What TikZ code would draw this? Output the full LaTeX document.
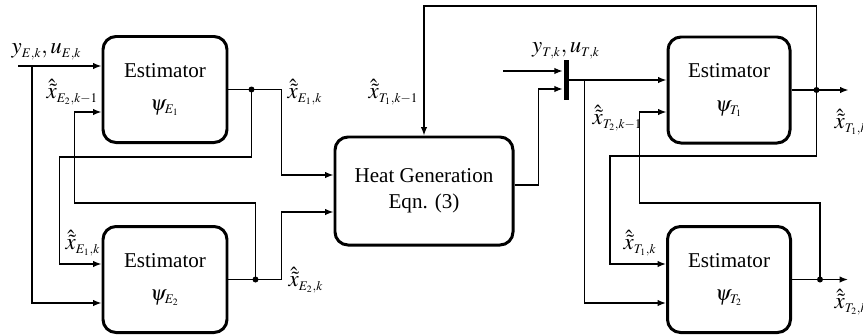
\documentclass[tikz,border=0pt]{standalone}
\usepackage{mathptmx}
\usepackage{fontspec}
\setmainfont{Liberation Serif}
\usetikzlibrary{arrows.meta,calc}
\DeclareMathSizes{13}{13}{7.5}{5.5}
\DeclareMathSizes{12}{12}{7.5}{5.5}

\newcommand{\xht}{\hat{\tilde{x}}}

\begin{document}
\begin{tikzpicture}[x=0.2mm,y=-0.2mm,line width=0.8pt,>={Latex[length=1.7mm,width=1.3mm]},
  bloque/.style={draw,line width=1.7pt,rounded corners=2.6mm,align=center,font=\fontsize{12}{14}\selectfont},
  etiq/.style={font=\fontsize{13}{15}\selectfont,inner sep=0pt}]
  \useasboundingbox (0,0) rectangle (863,335);
  % bloques
  \node[bloque,minimum width=24.8mm,minimum height=21.2mm] (e1) at (165,89.5) {Estimator\\[5pt]$\psi_{E_1}$};
  \node[bloque,minimum width=24.8mm,minimum height=21.2mm] (e2) at (165,279.5) {Estimator\\[5pt]$\psi_{E_2}$};
  \node[bloque,minimum width=35.6mm,minimum height=21.6mm] (heat) at (424,191) {Heat Generation\\[1pt]Eqn. (3)};
  \node[bloque,minimum width=24.4mm,minimum height=21.2mm] (t1) at (729,90) {Estimator\\[5pt]$\psi_{T_1}$};
  \node[bloque,minimum width=24.6mm,minimum height=21.2mm] (t2) at (729,279.5) {Estimator\\[5pt]$\psi_{T_2}$};
  \node[fill,minimum width=1mm,minimum height=8mm,inner sep=0pt] (bar) at (566,80) {};
  % puntos de union
  \coordinate (inE) at (18,66);
  \coordinate (inT) at (503,71);
  \coordinate (jE1) at ($(e1.east)+(23,0)$);
  \coordinate (jE2) at ($(e2.east)+(27,0)$);
  \coordinate (jT1) at ($(t1.east)+(25,0)$);
  \coordinate (jT2) at ($(t2.east)+(28,0)$);
  \coordinate (outT1) at ($(t1.east)+(57,0)$);
  \coordinate (outT2) at ($(t2.east)+(56,0)$);
  % lado E
  \draw[->] (inE) -- ($(e1.west)+(0,-23.5)$);
  \draw[->] ($(inE)+(14,0)$) |- ($(e2.west)+(0,23.5)$);
  \draw[->] (e1.east) -- ++(53,0) |- ($(heat.west)+(0,-16)$);
  \draw[->] (e2.east) -- ++(53,0) |- ($(heat.west)+(0,21)$);
  \draw[->] (jE1) -- ++(0,67.5) -| ($(e2.west)+(-42,-15.5)$) -- ($(e2.west)+(0,-15.5)$);
  \draw[->] (jE2) -- ++(0,-76.5) -| ($(e1.west)+(-27,22.5)$) -- ($(e1.west)+(0,22.5)$);
  % lado T
  \draw[->] (inT) -- ($(bar.west)+(0,-9)$);
  \draw[->] ($(heat.east)+(0,-6)$) -- ++(24,0) |- ($(bar.west)+(0,9)$);
  \draw[->] (bar.east) -- (bar.east -| t1.west);
  \draw[->] ($(bar.east)+(15,0)$) |- ($(t2.west)+(0,23.5)$);
  \draw[->] (t1.east) -- (outT1);
  \draw[->] (t2.east) -- (outT2);
  \draw[->] (jT1) -- ++(0,-84) -| (heat.north);
  \draw[->] (jT1) -- ++(0,66) -| ($(t2.west)+(-56,-15.5)$) -- ($(t2.west)+(0,-15.5)$);
  \draw[->] (jT2) -- ++(0,-76.5) -| ($(t1.west)+(-27,22)$) -- ($(t1.west)+(0,22)$);
  \foreach \j in {jE1,jE2,jT1,jT2} \fill (\j) circle (0.6mm);
  % etiquetas
  \node[etiq,anchor=west] (lyE) at (11,52) {$y_{E,k},u_{E,k}$};
  \node[etiq,anchor=west] (lE2a) at (46,92) {$\xht_{E_2,k-1}$};
  \node[etiq,anchor=west] (lE1a) at (287,92) {$\xht_{E_1,k}$};
  \node[etiq,anchor=west] (lE1b) at (65,243) {$\xht_{E_1,k}$};
  \node[etiq,anchor=west] (lE2b) at (288,280) {$\xht_{E_2,k}$};
  \node[etiq,anchor=east] (lT1a) at (419,92) {$\xht_{T_1,k-1}$};
  \node[etiq] (lyT) at (566,51) {$y_{T,k},u_{T,k}$};
  \node[etiq,anchor=west] (lT2a) at (592,118) {$\xht_{T_2,k-1}$};
  \node[etiq,anchor=west] (lT1b) at (623,243) {$\xht_{T_1,k}$};
  \node[etiq,anchor=west] (lT1c) at (834,122) {$\xht_{T_1,k}$};
  \node[etiq,anchor=west] (lT2c) at (834,302) {$\xht_{T_2,k}$};
\end{tikzpicture}
\end{document}
